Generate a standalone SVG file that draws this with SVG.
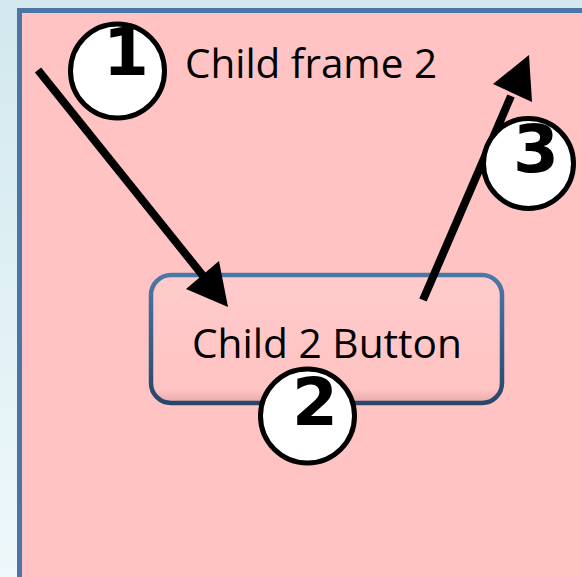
<svg xmlns="http://www.w3.org/2000/svg" width="582" height="577" viewBox="0 0 582 577">
  <defs>
    <linearGradient id="bg" x1="0" y1="0" x2="0" y2="1">
      <stop offset="0" stop-color="#D2E8EE"/>
      <stop offset="1" stop-color="#EEF8FB"/>
    </linearGradient>
    <linearGradient id="btnStroke" x1="0" y1="0" x2="0" y2="1">
      <stop offset="0" stop-color="#4C78A8"/>
      <stop offset="1" stop-color="#27466A"/>
    </linearGradient>
    <linearGradient id="btnFill" x1="0" y1="0" x2="0" y2="1">
      <stop offset="0" stop-color="#FFCBCB"/>
      <stop offset="0.9" stop-color="#FFC3C3"/>
      <stop offset="1" stop-color="#E6A6A6"/>
    </linearGradient>
    <style>
      .lbl { font-family: "Open Sans", "Liberation Sans", sans-serif; font-size: 40px; fill: #000; }
      .num { font-family: "DejaVu Sans", sans-serif; font-weight: bold; font-size: 66px; fill: #000; text-anchor: middle; }
      .badge { fill: #FFFFFF; stroke: #000; stroke-width: 5; }
      .shaft { stroke: #000; stroke-width: 8; fill: none; }
      .head { fill: #000; }
    </style>
  </defs>
  <rect x="0" y="0" width="582" height="577" fill="url(#bg)"/>
  <g id="frame">
    <rect x="19.5" y="10.5" width="620" height="620" fill="#FFC3C3" stroke="#4A75A5" stroke-width="5"/>
    <text class="lbl" x="185" y="78" textLength="252" lengthAdjust="spacingAndGlyphs">Child frame 2</text>
  </g>
  <g id="button">
    <rect x="151" y="275" width="351" height="128" rx="20" ry="20" fill="url(#btnFill)" stroke="url(#btnStroke)" stroke-width="4.5"/>
    <text class="lbl" x="192" y="358" textLength="270" lengthAdjust="spacingAndGlyphs">Child 2 Button</text>
  </g>
  <g id="connectors">
    <line class="shaft" x1="38" y1="70" x2="204" y2="277"/>
    <polygon class="head" points="228,307 186,289 219,261"/>
    <line class="shaft" x1="423" y1="300" x2="511" y2="96"/>
    <polygon class="head" points="529,55 493,84 532,102"/>
  </g>
  <g id="badge1">
    <circle class="badge" cx="117.5" cy="71" r="47"/>
    <text class="num" x="126" y="75">1</text>
  </g>
  <g id="badge2">
    <circle class="badge" cx="307.5" cy="416" r="47"/>
    <text class="num" x="315" y="425">2</text>
  </g>
  <g id="badge3">
    <circle class="badge" cx="528.5" cy="163.5" r="45"/>
    <text class="num" x="536" y="172">3</text>
  </g>
</svg>
